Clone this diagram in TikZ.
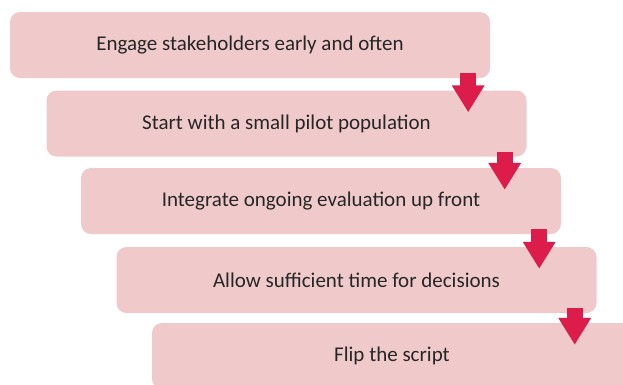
\documentclass[tikz,border=0pt]{standalone}
\usepackage{fontspec}
\setmainfont{Carlito}
\usepackage{xcolor}
\usepackage{tikz}
\usetikzlibrary{arrows.meta,calc}
\definecolor{boxpink}{HTML}{F0CACB}
\definecolor{arrowred}{HTML}{DC1C4A}
\definecolor{textgray}{HTML}{262626}

\begin{document}
\begin{tikzpicture}[x=1pt,y=1pt]
  \clip (0,0) rectangle (623,-384);
  \useasboundingbox (0,0) rectangle (623,-384);

    \tikzstyle{stepbox}=[fill=boxpink,draw=none,rounded corners=10pt,minimum width=480pt,minimum height=66pt,inner sep=0pt,text=textgray,font=\fontsize{21}{25}\selectfont]
    \tikzstyle{downarrow}=[draw=arrowred,line width=16pt,-{Triangle[width=31pt,length=27pt]}]

  \node[stepbox] (engage) at (250,-45) {Engage stakeholders early and often};
  \node[stepbox] (pilot) at (286.5,-123.5) {Start with a small pilot population};
  \node[stepbox] (evaluate) at (321,-201) {Integrate ongoing evaluation up front};
  \node[stepbox] (decide) at (356.5,-280) {Allow sufficient time for decisions};
  \node[stepbox] (flip) at (392,-356) {Flip the script};

\draw[downarrow] ($(engage.south east)+(-22,5)$) -- ($(engage.south east |- pilot.north)+(-22,-22)$);
\draw[downarrow] ($(pilot.south east)+(-22,5)$) -- ($(pilot.south east |- evaluate.north)+(-22,-22)$);
\draw[downarrow] ($(evaluate.south east)+(-22,5)$) -- ($(evaluate.south east |- decide.north)+(-22,-22)$);
\draw[downarrow] ($(decide.south east)+(-22,5)$) -- ($(decide.south east |- flip.north)+(-22,-22)$);
    \end{tikzpicture}
\end{document}
